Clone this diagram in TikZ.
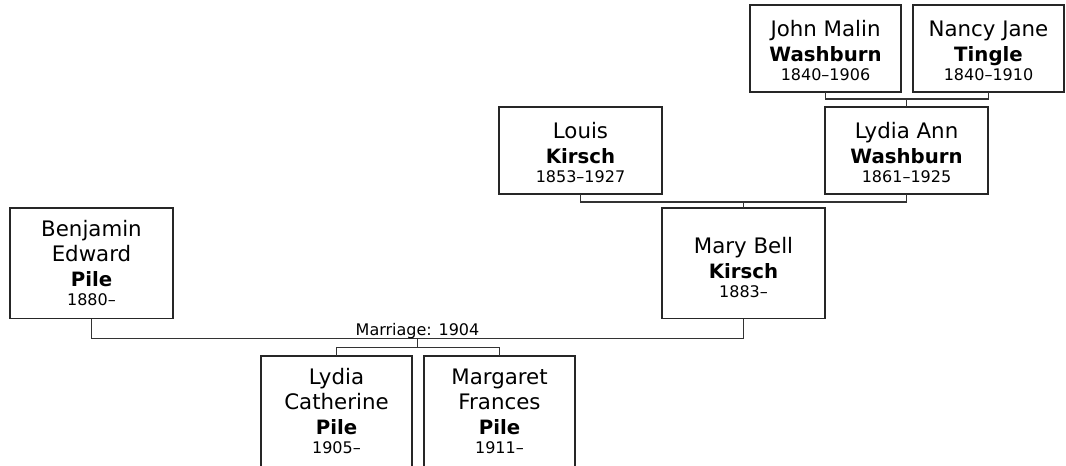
\documentclass[tikz,border=0pt]{standalone}
\usepackage{fontspec}
\setmainfont{DejaVu Sans}
\usepackage{tikz}
\usetikzlibrary{calc,positioning}
\newcommand{\surname}[1]{{\fontsize{14.8}{18.75}\selectfont\bfseries #1}}
\newcommand{\lifespan}[1]{\\[-4.5pt]{\fontsize{12}{18.75}\selectfont #1}}

\begin{document}
\begin{tikzpicture}[
    x=0.75pt,y=-0.75pt,
    every node/.style={font=\fontsize{16}{18.75}\selectfont},
    person/.style={draw=black!85,line width=1.1pt,align=center,inner sep=0pt,outer sep=0pt,minimum width=122.25pt},
    narrow/.style={person,minimum width=113.25pt},
    gen3/.style={minimum height=65.25pt},
    gen4/.style={minimum height=83pt},
    link/.style={draw=black!80,line width=0.9pt}
  ]
    \clip (0,0) rectangle (1066,465);

    % grandparents
    \node[narrow,gen3,anchor=north west] (john) at (750,5) {\rule{0pt}{15.5pt}John Malin\\\surname{Washburn}\lifespan{1840–1906}};
    \node[narrow,gen3,right=9pt of john] (nancy) {\rule{0pt}{15.5pt}Nancy Jane\\\surname{Tingle}\lifespan{1840–1910}};
    \node[person,gen3,anchor=north west] (louis) at (499,107) {\rule{0pt}{15.5pt}Louis\\\surname{Kirsch}\lifespan{1853–1927}};
    \node[person,gen3,anchor=north west] (lydiaann) at (825,107) {\rule{0pt}{15.5pt}Lydia Ann\\\surname{Washburn}\lifespan{1861–1925}};

    % parents
    \node[person,gen4,anchor=north west] (benjamin) at (10,208) {Benjamin\\Edward\\\surname{Pile}\lifespan{1880–}};
    \node[person,gen4,anchor=north west] (marybell) at (662,208) {\mbox{}\\Mary Bell\\\surname{Kirsch}\lifespan{1883–}};

    % children
    \node[narrow,gen4,anchor=north west] (lydiacath) at (261,356) {Lydia\\Catherine\\\surname{Pile}\lifespan{1905–}};
    \node[narrow,gen4,right=9pt of lydiacath] (margaret) {Margaret\\Frances\\\surname{Pile}\lifespan{1911–}};

    % connectors
    \draw[link] (john.south) -- ++(0,7) coordinate (gp1) -| (nancy.south);
    \draw[link] (lydiaann.north) -- (lydiaann.north |- gp1);
    \draw[link] (louis.south) -- ++(0,8) coordinate (gp2) -| (lydiaann.south);
    \draw[link] (marybell.north) -- (marybell.north |- gp2);
    \draw[link] (benjamin.south) -- ++(0,20) -| (marybell.south);
    \coordinate (wed) at ($(benjamin.south)!0.5!(marybell.south)+(0,20)$);
    \node[anchor=base,inner sep=0pt,font=\fontsize{12}{14}\selectfont] (marriage) at ($(wed)+(0,-3.5)$) {Marriage: 1904};
    \draw[link] (wed) -- ++(0,9) coordinate (kids);
    \draw[link] (lydiacath.north) |- (kids) -| (margaret.north);
\end{tikzpicture}
\end{document}
